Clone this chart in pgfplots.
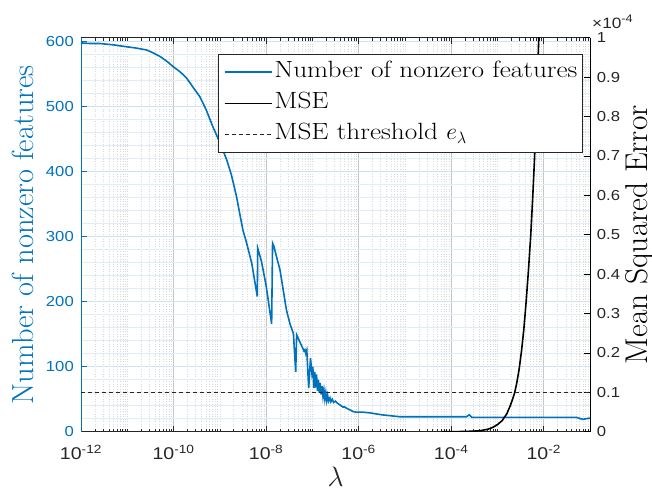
\RequirePackage{fix-cm}
\documentclass[border=0pt]{standalone}
\usepackage{fontspec}
\setmainfont{Latin Modern Roman}[FakeStretch=1.16]
\newfontfamily\lmplain{Latin Modern Roman}
\newfontfamily\ticksf{Liberation Sans}[FakeStretch=1.15]
\usepackage{pgfplots}
\pgfplotsset{compat=1.18}
\definecolor{mblue}{rgb}{0,0.447,0.741}
\definecolor{axgray}{rgb}{0.15,0.15,0.15}
\newcommand\tp[1]{10\textsuperscript{#1}}
\def\mlist{-11,-9,-7,-5,-3}
\foreach \d in {-12,...,-2}{\foreach \m in {0.30103,0.47712,0.60206,0.69897,0.77815,0.84510,0.90309,0.95424}{\pgfmathparse{\d+\m}\xdef\mlist{\mlist,\pgfmathresult}}}

\pgfplotstableread{
x y
-12 598
-11.8 597
-11.59 597
-11.3 595
-11.01 592
-10.8 590
-10.58 587
-10.45 583
-10.29 577
-10.15 570
-10.0 561
-9.85 553
-9.72 544
-9.6 532
-9.43 515
-9.3 496
-9.15 469
-9.0 445
-8.85 418
-8.75 395
-8.64 362
-8.55 328
-8.5 310
-8.42 290
-8.31 259
-8.19 208
-8.18 282
-8.1 262
-8.0 225
-7.88 166
-7.86 290
-7.83 285
-7.76 265
-7.70 249
-7.63 218
-7.56 187
-7.48 165
-7.41 151
-7.36 92
-7.34 149
-7.25 135
-7.18 124
-7.16 126
-7.14 120
-7.12 125
-7.08 67
-7.04 113
-7.01 90
-6.99 100
-6.97 67
-6.95 92
-6.93 68
-6.91 88
-6.89 63
-6.87 80
-6.85 60
-6.83 75
-6.81 57
-6.79 70
-6.77 54
-6.75 64
-6.73 50
-6.71 60
-6.69 48
-6.67 56
-6.65 47
-6.62 52
-6.60 46
-6.57 50
-6.54 45
-6.50 47
-6.46 44
-6.42 42
-6.38 40
-6.34 38
-6.30 38
-6.26 36
-6.20 34
-6.12 31
-6.05 30
-5.90 30
-5.76 29
-5.5 26
-5.11 23
-4.5 23
-3.67 23
-3.61 26
-3.55 22
-3.0 22
-2.30 22
-1.6 22
-1.29 22
-1.16 19
-1.08 20
-1.0 21
}\nnz

\pgfplotstableread{
x y
-4.2 0
-3.9 0.0002
-3.7 0.0006
-3.5 0.0015
-3.35 0.003
-3.2 0.0065
-3.1 0.011
-3.0 0.018
-2.9 0.028
-2.8 0.045
-2.73 0.064
-2.68 0.08
-2.63 0.098
-2.58 0.125
-2.53 0.16
-2.48 0.205
-2.43 0.26
-2.38 0.33
-2.33 0.41
-2.28 0.50
-2.24 0.59
-2.20 0.69
-2.17 0.78
-2.14 0.88
-2.11 0.99
-2.08 1.1
}\mse

\begin{document}
\begin{tikzpicture}
\useasboundingbox (-81pt,-57.3pt) rectangle (571pt,431.7pt);
\begin{axis}[
  at={(0pt,0pt)}, anchor=south west, scale only axis,
  width=509pt, height=394pt,
  xmin=-12, xmax=-1, ymin=0, ymax=606,
  axis y line*=left,
  xtick={-12,-10,-8,-6,-4,-2},
  xticklabels={\tp{-12},\tp{-10},\tp{-8},\tp{-6},\tp{-4},\tp{-2}},
  minor xtick/.expand once=\mlist,
  ytick={0,100,200,300,400,500,600},
  yticklabels={0,100,200,300,400,500,600},
  minor ytick={20,40,60,80,120,140,160,180,220,240,260,280,320,340,360,380,420,440,460,480,520,540,560,580},
  xmajorgrids, xminorgrids, ymajorgrids, yminorgrids,
  major x grid style={gray!45, line width=0.5pt},
  minor x grid style={gray!30, line width=0.5pt, dotted},
  major y grid style={mblue!20, line width=0.5pt},
  minor y grid style={mblue!12, line width=0.5pt},
  tick align=inside,
  major tick length=6pt, minor tick length=3pt,
  x axis line style={axgray, line width=0.8pt},
  y axis line style={mblue, line width=0.8pt},
  xtick style={axgray, line width=0.6pt},
  ytick style={mblue, line width=0.6pt},
  minor y tick style={draw=none},
  xticklabel style={font=\ticksf\fontsize{17}{17}\selectfont, text=axgray, anchor=base, yshift=-28pt},
  yticklabel style={font=\ticksf\fontsize{14.5}{14.5}\selectfont, text=mblue, anchor=east, inner sep=0pt, xshift=-7pt},
  xlabel={\fontsize{28}{28}\selectfont$\lambda$},
  xlabel style={at={(axis description cs:0.5,-0.139)}, anchor=base, inner sep=0pt, text=axgray},
  ylabel={\lmplain\fontsize{30.5}{30.5}\selectfont Number of nonzero features},
  ylabel style={at={(axis description cs:-0.0937,0.5)}, anchor=base, inner sep=0pt, text=mblue},
]
\addplot[mblue, line width=1.6pt] table[x=x, y=y] {\nnz};
\end{axis}
\begin{axis}[
  at={(0pt,0pt)}, anchor=south west, scale only axis,
  width=509pt, height=394pt,
  xmin=-12, xmax=-1, ymin=0, ymax=1,
  hide x axis, axis y line*=right,
  ytick={0,0.1,0.2,0.3,0.4,0.5,0.6,0.7,0.8,0.9,1},
  yticklabels={0,0.1,0.2,0.3,0.4,0.5,0.6,0.7,0.8,0.9,1},
  tick align=inside, major tick length=6pt,
  y axis line style={black, line width=0.8pt},
  ytick style={black, line width=0.6pt},
  yticklabel style={font=\ticksf\fontsize{14.5}{14.5}\selectfont, text=axgray, anchor=west, inner sep=0pt, xshift=6.7pt},
  ylabel={\lmplain\fontsize{31.5}{31.5}\selectfont Mean Squared Error},
  ylabel style={at={(axis description cs:1.112,0.5)}, anchor=base, inner sep=0pt, text=black},
  legend style={at={(rel axis cs:0.986,0.9587)}, anchor=north east, draw=axgray, line width=0.8pt, fill=white,
    font=\fontsize{23.5}{23.5}\selectfont, inner xsep=5pt, inner ysep=5.7pt, row sep=7.3pt, column sep=2pt,
    nodes={inner sep=0pt, text height=17pt, text depth=7pt}},
  legend cell align=left,
  legend image code/.code={\draw[#1] (0pt,0pt) -- (47pt,0pt);},
]
\addlegendimage{mblue, line width=1.6pt}
\addlegendentry{Number of nonzero features}
\addplot[black, line width=1.6pt] table[x=x, y=y] {\mse};
\addlegendentry{MSE}
\addplot[axgray, line width=0.9pt, dash pattern=on 4pt off 3pt] coordinates {(-12,0.1) (-1,0.1)};
\addlegendentry{MSE threshold $e_\lambda$}
\end{axis}
\node[anchor=base west, inner sep=0pt, text=axgray] at (511pt,403pt) {\ticksf\fontsize{15}{15}\selectfont ×10\raisebox{0.42em}{\fontsize{11}{11}\selectfont -4}};
\end{tikzpicture}
\end{document}
